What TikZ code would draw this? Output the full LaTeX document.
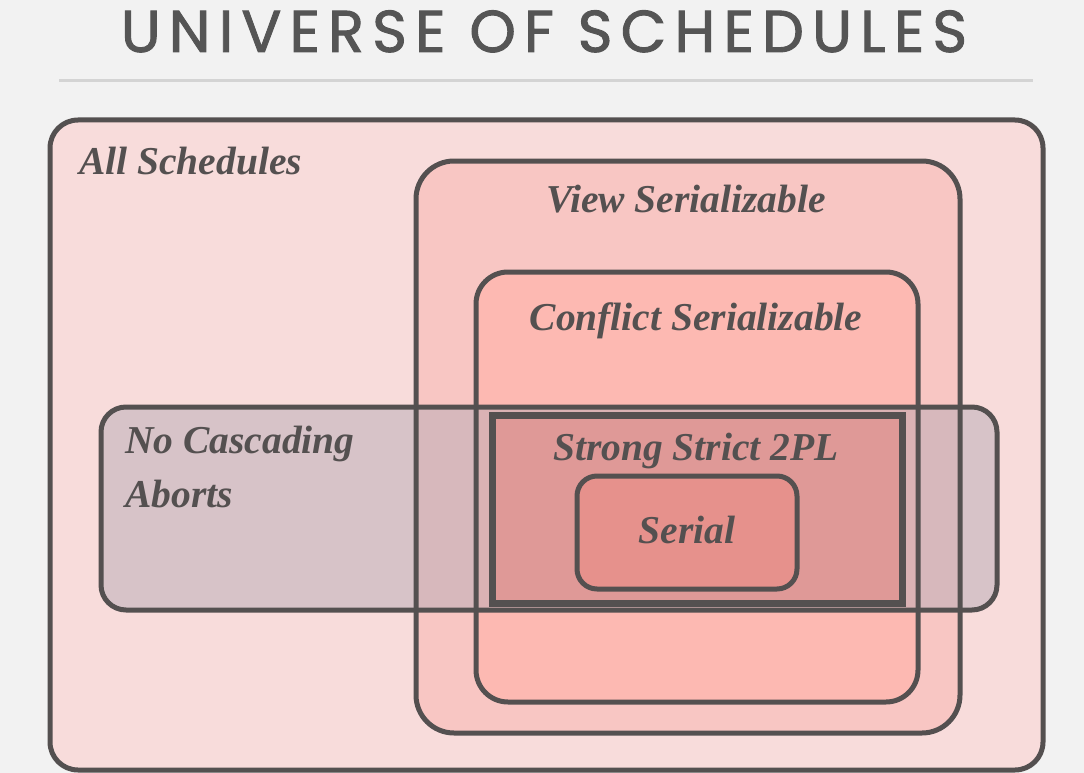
\documentclass[tikz,border=0pt]{standalone}
\usepackage{fontspec}
\newfontfamily\titlefont[LetterSpace=14, FakeBold=1.6]{Poppins}
\newfontfamily\labelfont{Liberation Serif}
\definecolor{bgc}{HTML}{F2F2F2}
\definecolor{rulec}{HTML}{D4D4D4}
\definecolor{inkc}{HTML}{545050}
\definecolor{titlec}{HTML}{555555}
\definecolor{allc}{HTML}{F8DCDB}
\definecolor{viewc}{HTML}{F8C6C3}
\definecolor{confc}{HTML}{FDB9B2}
\definecolor{ncac}{HTML}{B8ACB6}
\definecolor{sspc}{HTML}{DF9997}
\definecolor{serc}{HTML}{E6918C}
\tikzset{
  setline/.style={draw=inkc, line width=5pt},
  lbl/.style={text=inkc, inner sep=0pt, font=\labelfont\bfseries\itshape\fontsize{39.5}{46}\selectfont},
}
\begin{document}
\begin{tikzpicture}[x=1pt,y=-1pt]
\useasboundingbox (0,0) rectangle (1084,773);
\fill[bgc] (0,0) rectangle (1084,773);
\draw[rulec, line width=3pt] (59,81) -- (1033,81);
\node[anchor=base, inner sep=0pt, text=titlec, font=\titlefont\fontsize{59}{60}\selectfont] (title) at (544,52) {UNIVERSE OF SCHEDULES};
% fills
\fill[allc, rounded corners=28pt] (50,120) rectangle (1043,770);
\fill[viewc, rounded corners=38pt] (416,161) rectangle (960,733);
\fill[confc, rounded corners=32pt] (476,272) rectangle (918,702);
\fill[ncac, fill opacity=0.5, rounded corners=25pt] (101,407) rectangle (997,610);
\fill[sspc] (492,415) rectangle (902,603);
\fill[serc, rounded corners=20pt] (577,476) rectangle (797,589);
% outlines
\draw[setline, rounded corners=28pt] (50,120) rectangle (1043,770);
\draw[setline, rounded corners=38pt] (416,161) rectangle (960,733);
\draw[setline, rounded corners=32pt] (476,272) rectangle (918,702);
\draw[setline, rounded corners=25pt] (101,407) rectangle (997,610);
\draw[draw=inkc, line width=7pt] (492,415) rectangle (902,603);
\draw[setline, rounded corners=20pt] (577,476) rectangle (797,589);
% labels
\node[lbl, anchor=base west] (all) at (79,174) {All Schedules};
\node[lbl, anchor=base] (view) at (686,212) {View Serializable};
\node[lbl, anchor=base] (conf) at (696,330) {Conflict Serializable};
\node[lbl, anchor=base west] (nca1) at (125,453) {No Cascading};
\node[lbl, anchor=base west] (nca2) at (125,507) {Aborts};
\node[lbl, anchor=base] (ssp) at (696,460) {Strong Strict 2PL};
\node[lbl, anchor=base] (ser) at (687,543) {Serial};
\end{tikzpicture}
\end{document}
